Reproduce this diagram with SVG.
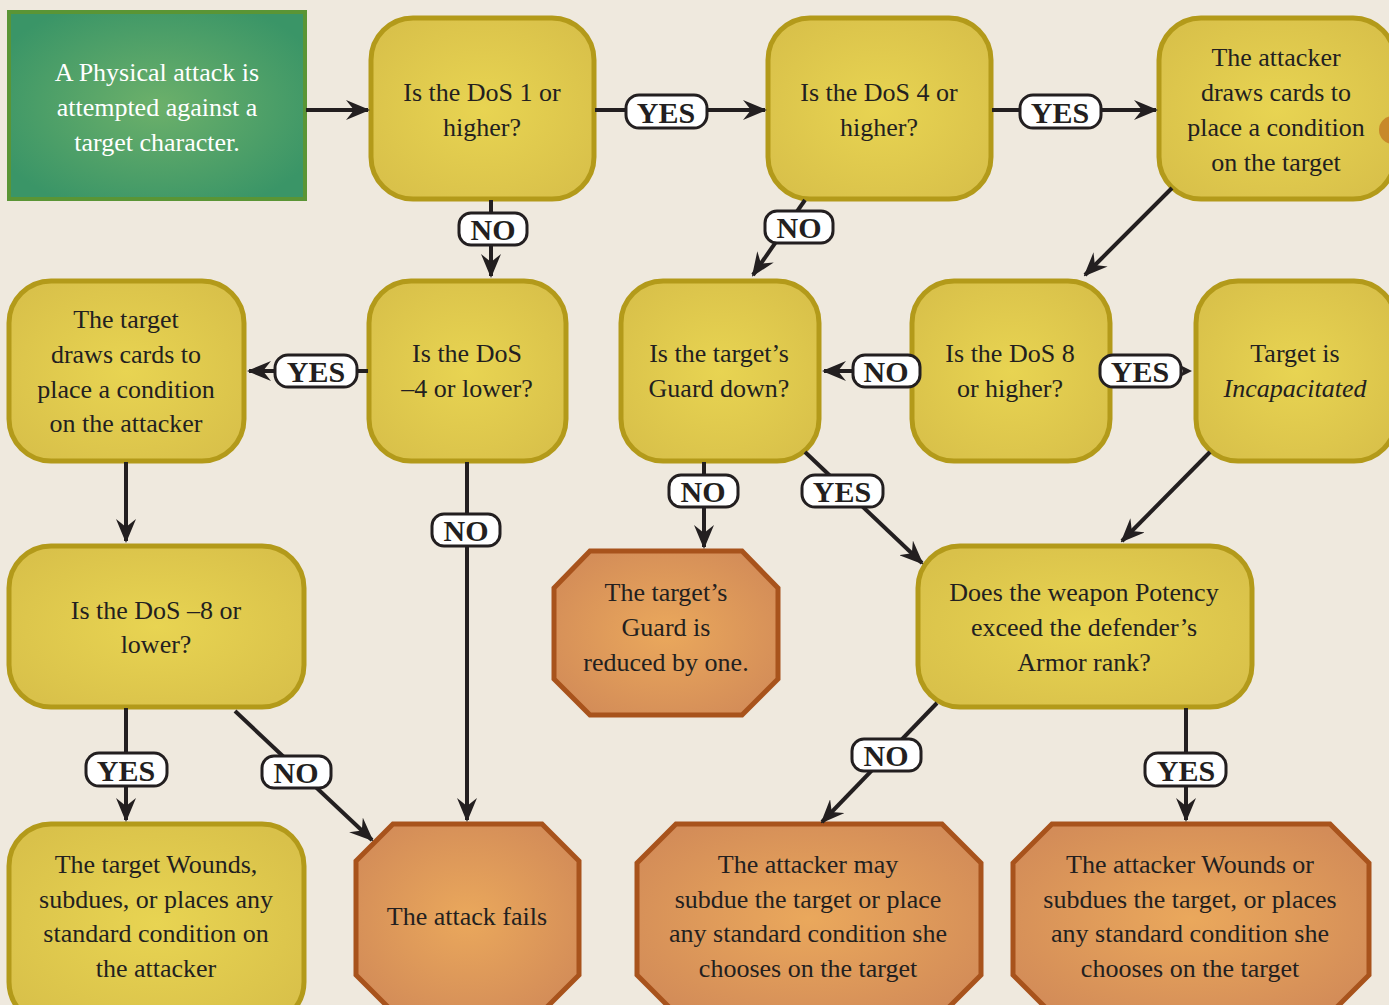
<svg xmlns="http://www.w3.org/2000/svg" width="1389" height="1005" viewBox="0 0 1389 1005">
<defs>
<radialGradient id="gY" cx="50%" cy="50%" r="60%"><stop offset="0" stop-color="#e8d452"/><stop offset="1" stop-color="#d9c14a"/></radialGradient>
<radialGradient id="gO" cx="50%" cy="50%" r="60%"><stop offset="0" stop-color="#eaa85c"/><stop offset="1" stop-color="#d38c58"/></radialGradient>
<radialGradient id="gG" cx="50%" cy="50%" r="60%"><stop offset="0" stop-color="#6cb06a"/><stop offset="1" stop-color="#3a9567"/></radialGradient>
<marker id="ar" viewBox="0 0 12 10" refX="11" refY="5" markerWidth="6" markerHeight="5" orient="auto" markerUnits="strokeWidth">
<path d="M0,0 L12,5 L0,10 L4,5 z" fill="#231f20"/>
</marker>
<style>
.y{fill:url(#gY);stroke:#b39a1a;stroke-width:5}
.o{fill:url(#gO);stroke:#a8531c;stroke-width:5}
.t{font-family:"Liberation Serif","DejaVu Serif",serif;font-size:26px;fill:#231f20;text-anchor:middle}
.w{fill:#ffffff}
.c{stroke:#231f20;stroke-width:4;fill:none}
.a{marker-end:url(#ar)}
.lb{fill:#ffffff;stroke:#231f20;stroke-width:3}
.lt{font-family:"Liberation Serif","DejaVu Serif",serif;font-size:30px;font-weight:bold;fill:#231f20;text-anchor:middle}
</style>
</defs>
<rect x="0" y="0" width="1389" height="1005" fill="#efe9de"/>

<g id="start">
<rect x="9" y="12" width="296" height="187" fill="url(#gG)" stroke="#5a9535" stroke-width="4"/>
<text class="t w" x="157" y="81">A Physical attack is</text>
<text class="t w" x="157" y="116">attempted against a</text>
<text class="t w" x="157" y="151">target character.</text>
</g>

<g id="dos1">
<rect class="y" x="371" y="18" width="223" height="181" rx="42"/>
<text class="t" x="482" y="101">Is the DoS 1 or</text>
<text class="t" x="482" y="136">higher?</text>
</g>

<g id="dos4">
<rect class="y" x="768" y="18" width="223" height="181" rx="42"/>
<text class="t" x="879" y="101">Is the DoS 4 or</text>
<text class="t" x="879" y="136">higher?</text>
</g>

<g id="attackerDraws">
<rect class="y" x="1159" y="18" width="236" height="181" rx="42"/>
<text class="t" x="1276" y="66">The attacker</text>
<text class="t" x="1276" y="101">draws cards to</text>
<text class="t" x="1276" y="136">place a condition</text>
<text class="t" x="1276" y="171">on the target</text>
<circle cx="1393" cy="130" r="14" fill="#c8892a"/>
</g>

<g id="targetDraws">
<rect class="y" x="9" y="281" width="235" height="180" rx="42"/>
<text class="t" x="126" y="328">The target</text>
<text class="t" x="126" y="363">draws cards to</text>
<text class="t" x="126" y="398">place a condition</text>
<text class="t" x="126" y="432">on the attacker</text>
</g>

<g id="dosm4">
<rect class="y" x="369" y="281" width="197" height="180" rx="42"/>
<text class="t" x="467" y="362">Is the DoS</text>
<text class="t" x="467" y="397">–4 or lower?</text>
</g>

<g id="guard">
<rect class="y" x="621" y="281" width="198" height="180" rx="42"/>
<text class="t" x="719" y="362">Is the target’s</text>
<text class="t" x="719" y="397">Guard down?</text>
</g>

<g id="dos8">
<rect class="y" x="912" y="281" width="198" height="180" rx="42"/>
<text class="t" x="1010" y="362">Is the DoS 8</text>
<text class="t" x="1010" y="397">or higher?</text>
</g>

<g id="incap">
<rect class="y" x="1196" y="281" width="200" height="180" rx="42"/>
<text class="t" x="1295" y="362">Target is</text>
<text class="t" x="1295" y="397" font-style="italic">Incapacitated</text>
</g>

<g id="dosm8">
<rect class="y" x="9" y="546" width="295" height="161" rx="42"/>
<text class="t" x="156" y="619">Is the DoS –8 or</text>
<text class="t" x="156" y="653">lower?</text>
</g>

<g id="reduced">
<polygon class="o" points="590,551 742,551 778,588 778,679 742,715 590,715 554,679 554,588"/>
<text class="t" x="666" y="601">The target’s</text>
<text class="t" x="666" y="636">Guard is</text>
<text class="t" x="666" y="671">reduced by one.</text>
</g>

<g id="potency">
<rect class="y" x="918" y="546" width="334" height="161" rx="42"/>
<text class="t" x="1084" y="601">Does the weapon Potency</text>
<text class="t" x="1084" y="636">exceed the defender’s</text>
<text class="t" x="1084" y="671">Armor rank?</text>
</g>

<g id="targetWounds">
<rect class="y" x="9" y="824" width="295" height="200" rx="42"/>
<text class="t" x="156" y="873">The target Wounds,</text>
<text class="t" x="156" y="908">subdues, or places any</text>
<text class="t" x="156" y="942">standard condition on</text>
<text class="t" x="156" y="977">the attacker</text>
</g>

<g id="fails">
<polygon class="o" points="393,824 542,824 579,861 579,975 542,1012 393,1012 356,975 356,861"/>
<text class="t" x="467" y="925">The attack fails</text>
</g>

<g id="maySubdue">
<polygon class="o" points="676,824 942,824 981,863 981,975 942,1014 676,1014 637,975 637,863"/>
<text class="t" x="808" y="873">The attacker may</text>
<text class="t" x="808" y="908">subdue the target or place</text>
<text class="t" x="808" y="942">any standard condition she</text>
<text class="t" x="808" y="977">chooses on the target</text>
</g>

<g id="attackerWounds">
<polygon class="o" points="1052,824 1330,824 1369,863 1369,975 1330,1014 1052,1014 1013,975 1013,863"/>
<text class="t" x="1190" y="873">The attacker Wounds or</text>
<text class="t" x="1190" y="908">subdues the target, or places</text>
<text class="t" x="1190" y="942">any standard condition she</text>
<text class="t" x="1190" y="977">chooses on the target</text>
</g>

<g id="connectors">
<line class="c a" x1="306" y1="110" x2="368" y2="110"/>
<line class="c a" x1="595" y1="110" x2="765" y2="110"/>
<line class="c a" x1="992" y1="110" x2="1156" y2="110"/>
<line class="c a" x1="491" y1="200" x2="491" y2="276"/>
<line class="c a" x1="805" y1="200" x2="753" y2="275"/>
<line class="c a" x1="1172" y1="188" x2="1085" y2="275"/>
<line class="c a" x1="368" y1="371" x2="249" y2="371"/>
<line class="c a" x1="911" y1="371" x2="824" y2="371"/>
<line class="c" x1="1111" y1="371" x2="1180" y2="371"/>
<path d="M1180,365 L1192,371 L1180,377 L1183,371 z" fill="#231f20"/>
<line class="c a" x1="126" y1="462" x2="126" y2="541"/>
<line class="c a" x1="467" y1="462" x2="467" y2="820"/>
<line class="c a" x1="704" y1="462" x2="704" y2="547"/>
<line class="c a" x1="805" y1="452" x2="922" y2="563"/>
<line class="c a" x1="1210" y1="452" x2="1122" y2="541"/>
<line class="c a" x1="126" y1="708" x2="126" y2="820"/>
<line class="c a" x1="235" y1="711" x2="372" y2="840"/>
<line class="c a" x1="937" y1="703" x2="822" y2="822"/>
<line class="c a" x1="1186" y1="708" x2="1186" y2="820"/>

<rect class="lb" x="626" y="95" width="81" height="33" rx="13"/><text class="lt" x="666" y="123">YES</text>
<rect class="lb" x="1020" y="95" width="81" height="33" rx="13"/><text class="lt" x="1060" y="123">YES</text>
<rect class="lb" x="459" y="213" width="68" height="32" rx="12"/><text class="lt" x="493" y="240">NO</text>
<rect class="lb" x="765" y="211" width="68" height="32" rx="12"/><text class="lt" x="799" y="238">NO</text>
<rect class="lb" x="275" y="355" width="82" height="32" rx="13"/><text class="lt" x="316" y="382">YES</text>
<rect class="lb" x="853" y="355" width="67" height="32" rx="12"/><text class="lt" x="886" y="382">NO</text>
<rect class="lb" x="1100" y="355" width="81" height="32" rx="13"/><text class="lt" x="1140" y="382">YES</text>
<rect class="lb" x="432" y="514" width="68" height="32" rx="12"/><text class="lt" x="466" y="541">NO</text>
<rect class="lb" x="669" y="475" width="69" height="32" rx="12"/><text class="lt" x="703" y="502">NO</text>
<rect class="lb" x="802" y="475" width="81" height="32" rx="13"/><text class="lt" x="842" y="502">YES</text>
<rect class="lb" x="86" y="753" width="81" height="33" rx="13"/><text class="lt" x="126" y="781">YES</text>
<rect class="lb" x="262" y="756" width="69" height="32" rx="12"/><text class="lt" x="296" y="783">NO</text>
<rect class="lb" x="852" y="739" width="69" height="32" rx="12"/><text class="lt" x="886" y="766">NO</text>
<rect class="lb" x="1145" y="753" width="81" height="33" rx="13"/><text class="lt" x="1186" y="781">YES</text>
</g>
</svg>
